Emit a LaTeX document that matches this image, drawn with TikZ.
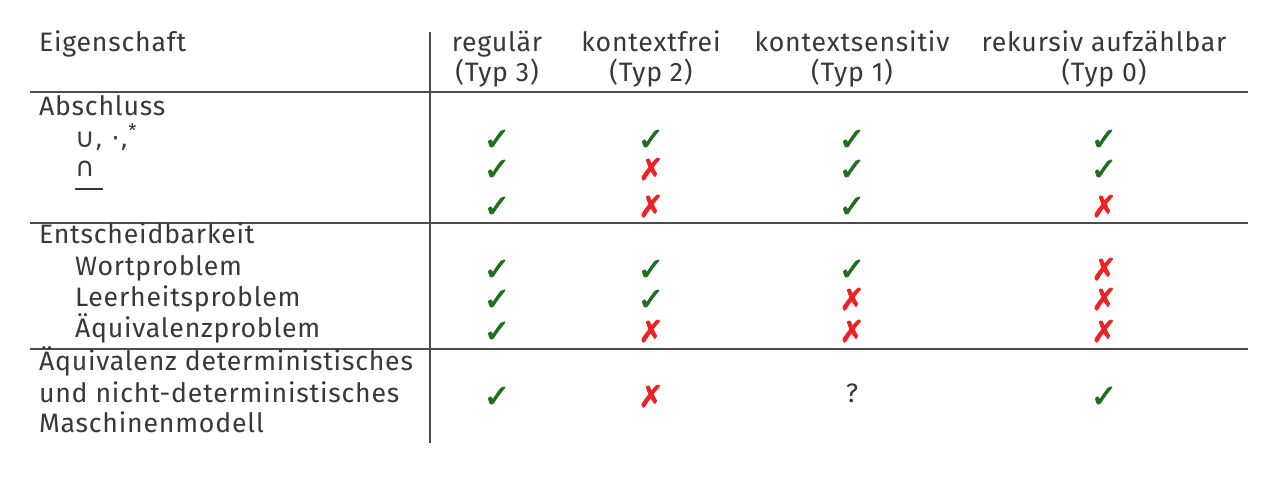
\documentclass[tikz,border=0pt]{standalone}
\usepackage{fontspec}
\setmainfont[LetterSpace=3]{Fira Sans}
\newfontfamily\symfont{DejaVu Sans}
\newfontfamily\chkfont[FakeBold=2.5]{DejaVu Sans}
\usepackage{amsmath}
\definecolor{okgreen}{HTML}{1F6F1F}
\definecolor{nored}{HTML}{EE2222}
\definecolor{txtgray}{HTML}{383838}
\newcommand{\yes}{\textcolor{okgreen}{\chkfont\fontsize{19}{21}\selectfont ✓}}
\newcommand{\no}{\textcolor{nored}{\chkfont\fontsize{18}{21}\selectfont ✗}}

\begin{document}
\begin{tikzpicture}[x=0.6pt,y=-0.6pt,font=\fontsize{16}{19}\selectfont,
  every node/.style={inner sep=0pt,outer sep=0pt,text=txtgray},
  lbl/.style={anchor=base west},
  head/.style={anchor=base},
  cell/.style={anchor=base}]
\useasboundingbox (0,0) rectangle (1280,499);
% rules
\coordinate (vt) at (430,32);
\coordinate (vb) at (430,443);
\coordinate (h1l) at (30,92);
\coordinate (h1r) at (1248,92);
\coordinate (h2l) at (30,223);
\coordinate (h2r) at (1248,223);
\coordinate (h3l) at (30,349);
\coordinate (h3r) at (1248,349);
\path[draw,line width=1.1pt,gray!60!black] (vt) -- (vb);
\path[draw,line width=1.1pt,gray!60!black] (h1l) -- (h1r);
\path[draw,line width=1.1pt,gray!60!black] (h2l) -- (h2r);
\path[draw,line width=1.1pt,gray!60!black] (h3l) -- (h3r);
% header
\node[lbl] (eig) at (39,52) {Eigenschaft};
\node[head] (t3) at (497,52) {regulär};
\node[head] (t3b) at (497,82) {(Typ 3)};
\node[head] (t2) at (651,52) {kontextfrei};
\node[head] (t2b) at (651,82) {(Typ 2)};
\node[head] (t1) at (852,52) {kontextsensitiv};
\node[head] (t1b) at (852,82) {(Typ 1)};
\node[head] (t0) at (1104,52) {rekursiv aufzählbar};
\node[head] (t0b) at (1104,82) {(Typ 0)};
% Abschluss
\node[lbl] (ab) at (39,116) {Abschluss};
\node[lbl] (uni) at (75,148) {{\symfont ∪, ·,}\textsuperscript{*}};
\node[lbl] (cap) at (75,177) {\symfont ∩};
\node[anchor=west] (cpl) at (75,189) {\rule{16.8pt}{1.3pt}};
\node[cell] (a1) at (497,150) {\yes};
\node[cell] (a2) at (651,150) {\yes};
\node[cell] (a3) at (852,150) {\yes};
\node[cell] (a4) at (1104,150) {\yes};
\node[cell] (b1) at (497,180) {\yes};
\node[cell] (b2) at (651,180) {\no};
\node[cell] (b3) at (852,180) {\yes};
\node[cell] (b4) at (1104,180) {\yes};
\node[cell] (c1) at (497,217) {\yes};
\node[cell] (c2) at (651,217) {\no};
\node[cell] (c3) at (852,217) {\yes};
\node[cell] (c4) at (1104,217) {\no};
% Entscheidbarkeit
\node[lbl] (ent) at (39,244) {Entscheidbarkeit};
\node[lbl] (wort) at (75,276) {Wortproblem};
\node[lbl] (leer) at (75,307) {Leerheitsproblem};
\node[lbl] (aeq) at (75,338) {Äquivalenzproblem};
\node[cell] (d1) at (497,280) {\yes};
\node[cell] (d2) at (651,280) {\yes};
\node[cell] (d3) at (852,280) {\yes};
\node[cell] (d4) at (1104,280) {\no};
\node[cell] (e1) at (497,310) {\yes};
\node[cell] (e2) at (651,310) {\yes};
\node[cell] (e3) at (852,310) {\no};
\node[cell] (e4) at (1104,310) {\no};
\node[cell] (f1) at (497,342) {\yes};
\node[cell] (f2) at (651,342) {\no};
\node[cell] (f3) at (852,342) {\no};
\node[cell] (f4) at (1104,342) {\no};
% Maschinenmodell
\node[lbl] (m1) at (39,371) {Äquivalenz deterministisches};
\node[lbl] (m2) at (39,403) {und nicht-deterministisches};
\node[lbl] (m3) at (39,433) {Maschinenmodell};
\node[cell] (g1) at (497,407) {\yes};
\node[cell] (g2) at (651,407) {\no};
\node[cell] (g3) at (852,403) {?};
\node[cell] (g4) at (1104,407) {\yes};
\end{tikzpicture}
\end{document}
